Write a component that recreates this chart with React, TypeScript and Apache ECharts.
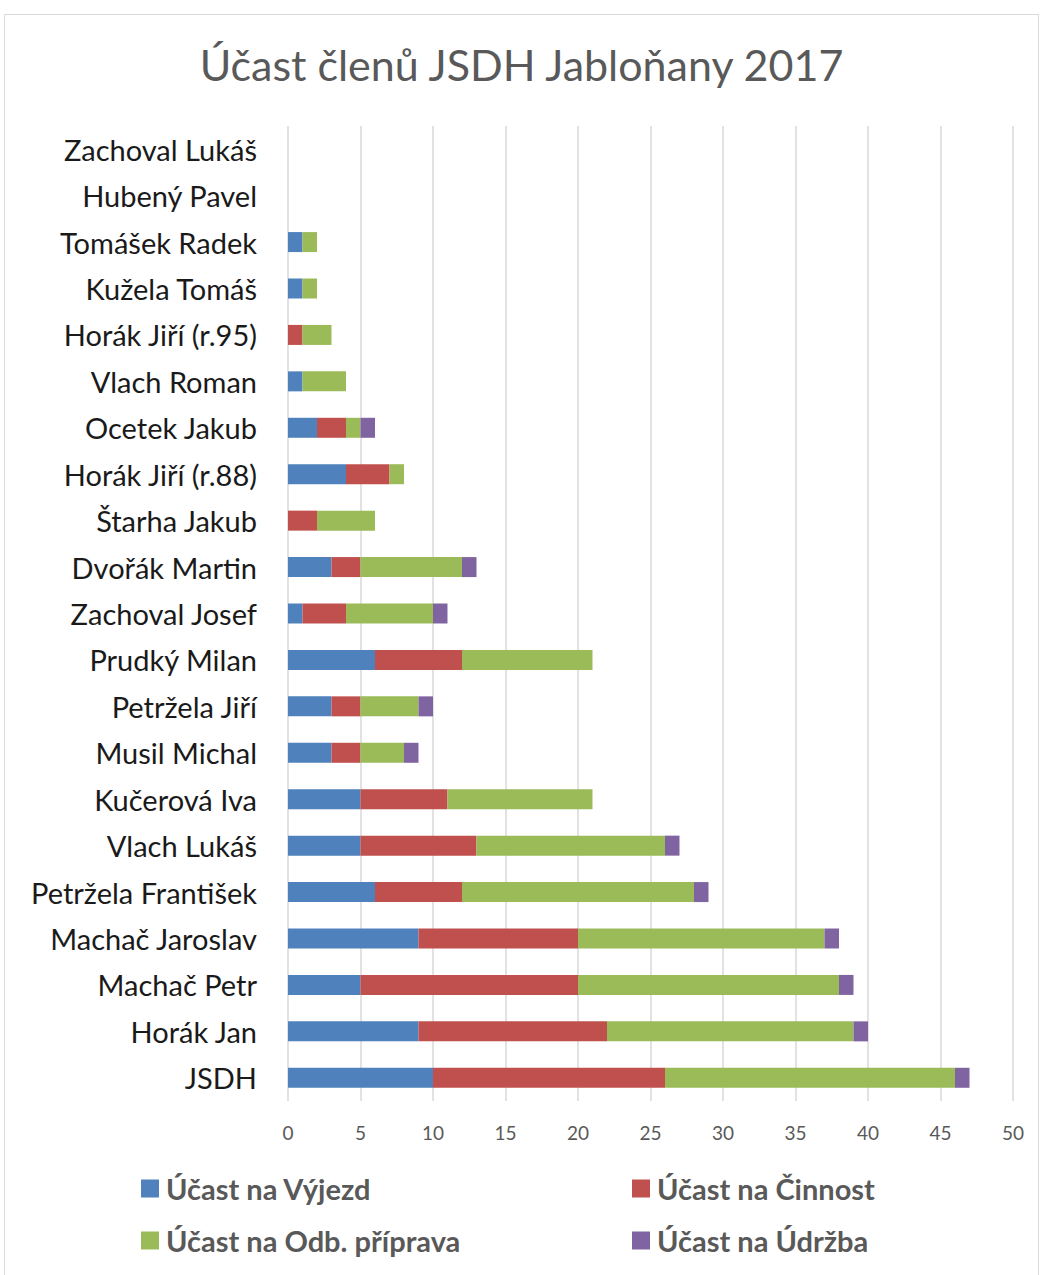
import React, { useEffect, useRef } from "react";
import * as echarts from "echarts";

const categories = [
  "Zachoval Lukáš", "Hubený Pavel", "Tomášek Radek", "Kužela Tomáš", "Horák Jiří (r.95)",
  "Vlach Roman", "Ocetek Jakub", "Horák Jiří (r.88)", "Štarha Jakub", "Dvořák Martin",
  "Zachoval Josef", "Prudký Milan", "Petržela Jiří", "Musil Michal", "Kučerová Iva",
  "Vlach Lukáš", "Petržela František", "Machač Jaroslav", "Machač Petr", "Horák Jan", "JSDH",
];
const vyjezd =   [0, 0, 1, 1, 0, 1, 2, 4, 0, 3, 1, 6, 3, 3, 5, 5, 6, 9, 5, 9, 10];
const cinnost =  [0, 0, 0, 0, 1, 0, 2, 3, 2, 2, 3, 6, 2, 2, 6, 8, 6, 11, 15, 13, 16];
const priprava = [0, 0, 1, 1, 2, 3, 1, 1, 4, 7, 6, 9, 4, 3, 10, 13, 16, 17, 18, 17, 20];
const udrzba =   [0, 0, 0, 0, 0, 0, 1, 0, 0, 1, 1, 0, 1, 1, 0, 1, 1, 1, 1, 1, 1];
const seriesNames = ["Účast na Výjezd", "Účast na Činnost", "Účast na Odb. příprava", "Účast na Údržba"];
const colors = ["#4f81bd", "#c0504d", "#9bbb59", "#8064a2"];

export default function App() {
  const ref = useRef<HTMLDivElement>(null);
  useEffect(() => {
    const chart = echarts.init(ref.current!, null, { renderer: "svg" });
    const font = "Lato, 'Open Sans', sans-serif";
    const values = [vyjezd, cinnost, priprava, udrzba];
    const legendPos = [
      { left: 141, top: 1174 },
      { left: 632, top: 1174 },
      { left: 141, top: 1226 },
      { left: 632, top: 1226 },
    ];
    chart.setOption({
      animation: false,
      backgroundColor: "#ffffff",
      title: {
        text: "Účast členů JSDH Jabloňany 2017",
        left: "center",
        top: 38,
        textStyle: { fontFamily: font, fontSize: 43, fontWeight: "normal", color: "#595959" },
      },
      graphic: [
        {
          type: "rect",
          shape: { x: 4.5, y: 14.5, width: 1034, height: 1270 },
          style: { fill: "none", stroke: "#d9d9d9", lineWidth: 1 },
          silent: true,
        },
      ],
      legend: seriesNames.map((n, i) => ({
        data: [n],
        left: legendPos[i].left,
        top: legendPos[i].top,
        padding: 0,
        itemWidth: 18,
        itemHeight: 18,
        icon: "rect",
        itemGap: 6,
        textStyle: { fontFamily: font, fontSize: 29, fontWeight: "bold", color: "#595959", padding: [0, 0, 0, 2] },
      })),
      grid: { left: 288, right: 30, top: 126, bottom: 174, containLabel: false },
      xAxis: {
        type: "value",
        min: 0,
        max: 50,
        interval: 5,
        axisLine: { show: false },
        axisTick: { show: false },
        splitLine: { show: true, lineStyle: { color: "#d9d9d9", width: 1.5 } },
        axisLabel: { fontFamily: font, fontSize: 19, color: "#595959", margin: 22 },
      },
      yAxis: {
        type: "category",
        data: categories,
        inverse: true,
        axisLine: { show: false },
        axisTick: { show: false },
        axisLabel: { fontFamily: font, fontSize: 29, color: "#1a1a1a", margin: 31, padding: [0, 0, 3, 0] },
      },
      series: seriesNames.map((n, i) => ({
        name: n,
        type: "bar",
        stack: "total",
        data: values[i],
        barWidth: 20,
        itemStyle: { color: colors[i] },
      })),
    });
    return () => chart.dispose();
  }, []);
  return (
    <div
      ref={ref}
      style={{ position: "absolute", left: 0, top: 0, width: 1043, height: 1275 }}
    />
  );
}
